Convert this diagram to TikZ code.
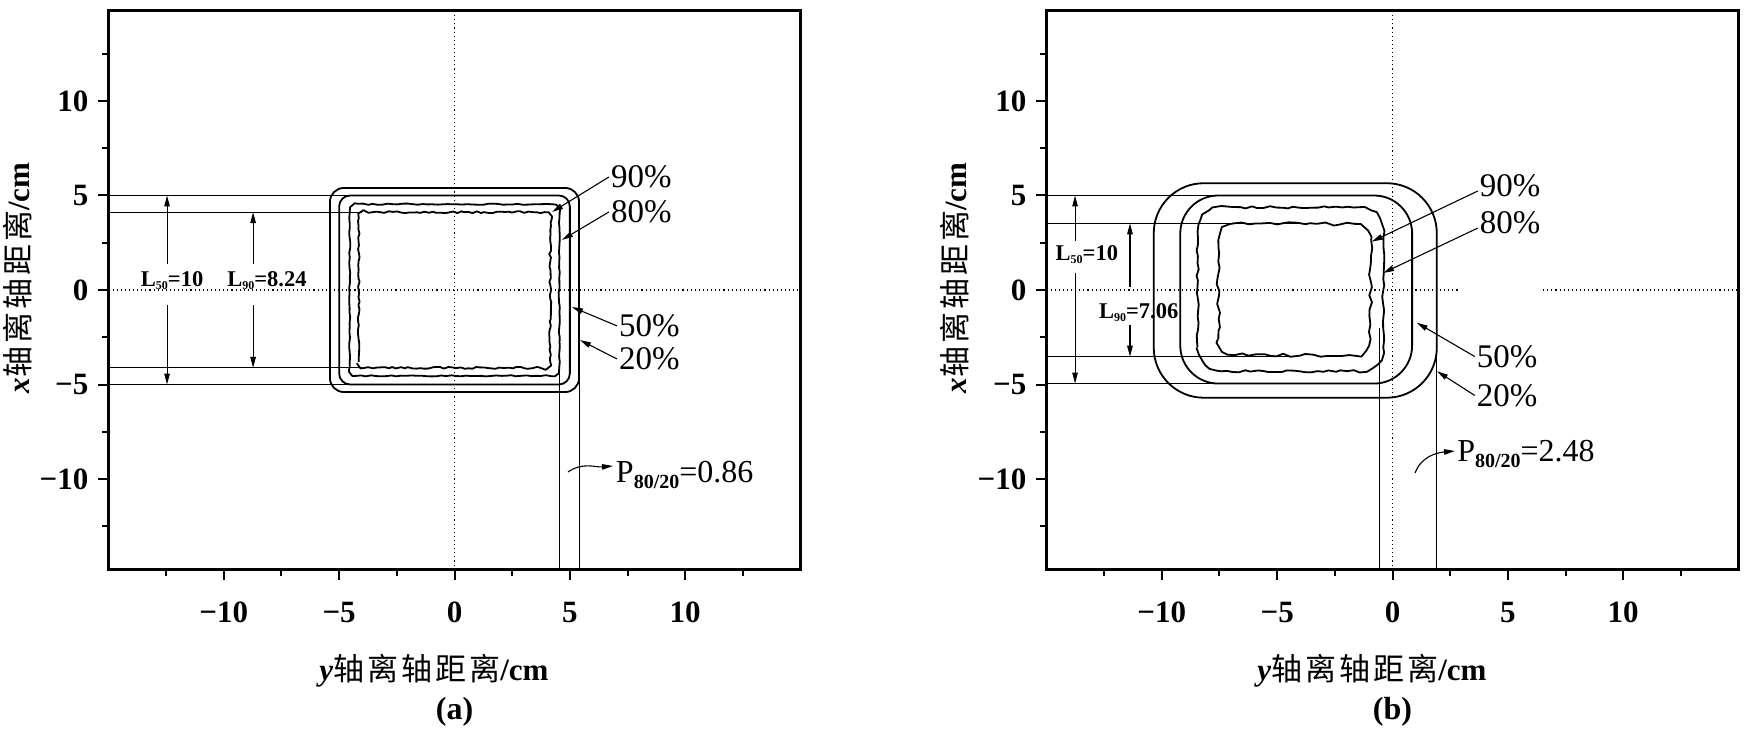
\documentclass[tikz,border=0pt]{standalone}
\usepackage{fontspec}
\setmainfont{Liberation Serif}
\newfontfamily\cjk{Noto Sans CJK SC}
\usetikzlibrary{arrows.meta,decorations.pathmorphing,calc}
\newcommand{\lsub}[1]{\raisebox{-3pt}{\fontsize{12}{12}\selectfont #1}}
\newcommand{\psub}[1]{\raisebox{-6pt}{\fontsize{20}{20}\selectfont\bfseries #1}}
\newcommand{\cjklab}{{\cjk\mdseries 轴\hspace{3pt}离\hspace{3pt}轴\hspace{3pt}距\hspace{3pt}离}}
\tikzset{
  frame/.style={line width=2.6pt},
  tickmark/.style={line width=2pt},
  contour/.style={line width=1.8pt, line join=round},
  thinline/.style={line width=1.1pt},
  dotline/.style={line width=1.1pt, dash pattern=on 1.1pt off 3pt},
  arr/.style={line width=1.1pt, -{Triangle[length=11pt,width=5.5pt]}},
  ticklab/.style={font=\fontsize{31}{31}\selectfont\bfseries, inner sep=0pt},
  pct/.style={font=\fontsize{33}{33}\selectfont, inner sep=2pt},
  llab/.style={font=\fontsize{22.5}{22.5}\selectfont\bfseries, inner sep=0pt},
  plab/.style={font=\fontsize{32}{32}\selectfont, inner sep=0pt, anchor=base west},
  axlab/.style={font=\fontsize{31}{31}\selectfont\bfseries, inner sep=0pt, anchor=base},
  caplab/.style={font=\fontsize{32}{32}\selectfont\bfseries, inner sep=0pt},
}
\begin{document}
\begin{tikzpicture}
\useasboundingbox (0,0) rectangle (1747pt,732pt);
%================ panel (a) ================
\begin{scope}[shift={(454.5pt,442pt)},x=23.07pt,y=18.9pt]
  \draw[dotline] (0,-14.8) -- (0,14.8);
  \draw[dotline] (-15,0) -- (15,0);
  \foreach \v/\t in {-10/−10,-5/−5,0/0,5/5,10/10}{
    \draw[tickmark] (\v,-14.8) -- ++(0,-10pt);
    \draw[tickmark] (-15,\v) -- ++(-10pt,0);
    \node[ticklab] (axa\v) at ([yshift=-43pt]\v,-14.8) {\t};
    \node[ticklab,anchor=east] (aya\v) at ([xshift=-20pt]-15,\v) {\t};
  }
  \foreach \v in {-12.5,-7.5,-2.5,2.5,7.5,12.5}{
    \draw[tickmark] (\v,-14.8) -- ++(0,-6pt);
    \draw[tickmark] (-15,\v) -- ++(-6pt,0);
  }
  \draw[frame] (-15,-14.8) rectangle (15,14.8);
  % contours
  \draw[contour, rounded corners=14pt] (-5.4,-5.4) rectangle (5.4,5.4);
  \draw[contour, rounded corners=11pt] (-5,-5) rectangle (5,5);
  \pgfmathsetseed{7}
  \draw[contour] decorate[decoration={random steps,segment length=5pt,amplitude=0.6pt}]
     {[rounded corners=8pt] (-4.54,-4.54) rectangle (4.54,4.54)};
  \pgfmathsetseed{11}
  \draw[contour] decorate[decoration={random steps,segment length=4pt,amplitude=1pt}]
     {[rounded corners=6pt] (-4.15,-4.12) rectangle (4.15,4.12)};
  % guide lines
  \draw[thinline] (-15,5) -- (-4.5,5);
  \draw[thinline] (-15,4.12) -- (-4,4.12);
  \draw[thinline] (-15,-4.12) -- (-4,-4.12);
  \draw[thinline] (-15,-5) -- (-4.5,-5);
  \draw[thinline] (4.54,-14.8) -- (4.54,-4.2);
  \draw[thinline] (5.4,-14.8) -- (5.4,-4.8);
  % L arrows
  \coordinate (aL50t) at (-12.46,5);
  \coordinate (aL50b) at (-12.46,-5);
  \node[llab] (aL50) at (-12.24,0.5) {L\lsub{50}=10};
  \draw[arr] ($(aL50.north -| aL50t)+(0,7pt)$) -- (aL50t);
  \draw[arr] ($(aL50.south -| aL50b)+(0,-15pt)$) -- (aL50b);
  \coordinate (aL90t) at (-8.73,4.12);
  \coordinate (aL90b) at (-8.73,-4.12);
  \node[llab] (aL90) at (-8.13,0.5) {L\lsub{90}=8.24};
  \draw[arr] ($(aL90.north -| aL90t)+(0,7pt)$) -- (aL90t);
  \draw[arr] ($(aL90.south -| aL90b)+(0,-15pt)$) -- (aL90b);
  % percentage labels
  \node[pct] (a90) at (8.1,5.98) {90\%};
  \node[pct] (a80) at (8.1,4.13) {80\%};
  \node[pct] (a50) at (8.45,-1.9) {50\%};
  \node[pct] (a20) at (8.45,-3.65) {20\%};
  \coordinate (a90t) at (4.23,4.13);
  \coordinate (a80t) at (4.66,2.65);
  \coordinate (a50t) at (5.09,-0.9);
  \coordinate (a20t) at (5.44,-2.65);
  \draw[arr] (a90.west) -- (a90t);
  \draw[arr] (a80.west) -- (a80t);
  \draw[arr] (a50.west) -- (a50t);
  \draw[arr] (a20.west) -- (a20t);
  % penumbra
  \node[plab] (aP) at (6.99,-10.21) {P\psub{80/20}=0.86};
  \coordinate (aPs) at (4.92,-9.63);
  \coordinate (aPt) at (6.87,-9.31);
  \draw[arr] (aPs) to[out=35,in=185] (aPt);
\end{scope}
\node[axlab,rotate=90] (ylaba) at (29pt,454pt) {\textit{x}\cjklab/cm};
\node[axlab] (xlaba) at (434pt,52pt) {\textit{y}\cjklab/cm};
\node[caplab] (capa) at (454.5pt,20pt) {(a)};
%================ panel (b) ================
\begin{scope}[shift={(1392.5pt,442pt)},x=23.07pt,y=18.9pt]
  \draw[dotline] (0,-14.8) -- (0,14.8);
  \draw[dotline] (-15,0) -- (2.93,0);
  \draw[dotline] (6.53,0) -- (15,0);
  \foreach \v/\t in {-10/−10,-5/−5,0/0,5/5,10/10}{
    \draw[tickmark] (\v,-14.8) -- ++(0,-10pt);
    \draw[tickmark] (-15,\v) -- ++(-10pt,0);
    \node[ticklab] (axb\v) at ([yshift=-43pt]\v,-14.8) {\t};
    \node[ticklab,anchor=east] (ayb\v) at ([xshift=-20pt]-15,\v) {\t};
  }
  \foreach \v in {-12.5,-7.5,-2.5,2.5,7.5,12.5}{
    \draw[tickmark] (\v,-14.8) -- ++(0,-6pt);
    \draw[tickmark] (-15,\v) -- ++(-6pt,0);
  }
  \draw[frame] (-15,-14.8) rectangle (15,14.8);
  % contours
  \draw[contour, rounded corners=50pt] (-10.35,-5.7) rectangle (1.92,5.65);
  \draw[contour, rounded corners=38pt] (-9.2,-4.95) rectangle (0.85,5);
  \pgfmathsetseed{3}
  \draw[contour] decorate[decoration={random steps,segment length=6pt,amplitude=1.2pt}]
     {[rounded corners=24pt] (-8.45,-4.3) rectangle (-0.4,4.38)};
  \pgfmathsetseed{5}
  \draw[contour] decorate[decoration={random steps,segment length=7pt,amplitude=1.8pt}]
     {[rounded corners=16pt] (-7.55,-3.45) rectangle (-0.95,3.5)};
  % guide lines
  \draw[thinline] (-15,5) -- (-6,5);
  \draw[thinline] (-15,3.53) -- (-3.6,3.53);
  \draw[thinline] (-15,-3.53) -- (-4.3,-3.53);
  \draw[thinline] (-15,-4.95) -- (-6,-4.95);
  \draw[thinline] (-0.56,-14.8) -- (-0.56,-2);
  \draw[thinline] (1.92,-14.8) -- (1.92,-3.5);
  % L arrows
  \coordinate (bL50t) at (-13.76,5);
  \coordinate (bL50b) at (-13.76,-4.95);
  \node[llab] (bL50) at (-13.25,1.9) {L\lsub{50}=10};
  \draw[arr] ($(bL50.north -| bL50t)+(0,4pt)$) -- (bL50t);
  \draw[arr] ($(bL50.south -| bL50b)+(0,-10pt)$) -- (bL50b);
  \coordinate (bL90t) at (-11.38,3.53);
  \coordinate (bL90b) at (-11.38,-3.53);
  \node[llab] (bL90) at (-11.0,-1.2) {L\lsub{90}=7.06};
  \draw[arr] ($(bL90.north -| bL90t)+(0,16pt)$) -- (bL90t);
  \draw[arr] ($(bL90.south -| bL90b)+(0,-3pt)$) -- (bL90b);
  % percentage labels
  \node[pct] (b90) at (5.1,5.5) {90\%};
  \node[pct] (b80) at (5.1,3.54) {80\%};
  \node[pct] (b50) at (4.97,-3.52) {50\%};
  \node[pct] (b20) at (4.97,-5.58) {20\%};
  \coordinate (b90t) at (-0.9,2.56);
  \coordinate (b80t) at (-0.41,0.9);
  \coordinate (b50t) at (1.05,-1.73);
  \coordinate (b20t) at (1.93,-4.3);
  \draw[arr] ([yshift=-5pt]b90.west) -- (b90t);
  \draw[arr] ([yshift=-5pt]b80.west) -- (b80t);
  \draw[arr] (b50.west) -- (b50t);
  \draw[arr] (b20.west) -- (b20t);
  % penumbra
  \node[plab] (bP) at (2.8,-9.05) {P\psub{80/20}=2.48};
  \coordinate (bPs) at (0.98,-9.68);
  \coordinate (bPt) at (2.71,-8.52);
  \draw[arr] (bPs) to[out=70,in=185] (bPt);
\end{scope}
\node[axlab,rotate=90] (ylabb) at (966pt,454pt) {\textit{x}\cjklab/cm};
\node[axlab] (xlabb) at (1372pt,52pt) {\textit{y}\cjklab/cm};
\node[caplab] (capb) at (1392.5pt,20pt) {(b)};
\end{tikzpicture}
\end{document}
